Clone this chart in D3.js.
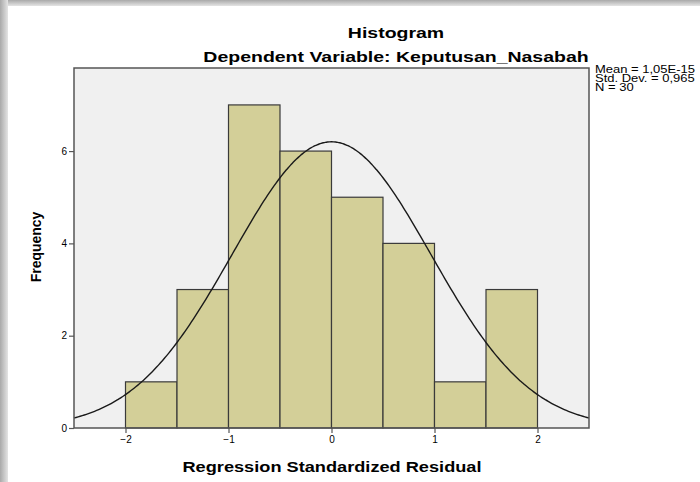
<!DOCTYPE html>
<html>
<head>
<meta charset="utf-8">
<script src="https://cdn.jsdelivr.net/npm/d3@7"></script>
<style>
  body { margin: 0; background: #fff; }
  svg text { font-family: "Liberation Sans", Arial, sans-serif; fill: #000; }
</style>
</head>
<body>
<div id="chart"></div>
<script>
// histogram bins (lower edges) and counts
const binStarts = [-2, -1.5, -1, -0.5, 0, 0.5, 1, 1.5];
const counts = [1, 3, 7, 6, 5, 4, 1, 3];
const binWidth = 0.5;

// stats shown in the legend
const meanValue = 1.05e-15;
const stdDev = 0.965;
const nCount = 30;
const statLines = ["Mean = 1,05E-15", "Std. Dev. = 0,965", "N = 30"];

const xTicks = [-2, -1, 0, 1, 2];
const yTicks = [0, 2, 4, 6];

const W = 700, H = 482;
const plot = { left: 74, top: 68, right: 589, bottom: 428 };
const stretch = 1.3; // the source picture is a bit wider than tall

const svg = d3.select("#chart").append("svg")
    .attr("width", W)
    .attr("height", H);

// card shadow along left and top edges
const defs = svg.append("defs");
const gl = defs.append("linearGradient").attr("id", "shL").attr("x1", 0).attr("x2", 1).attr("y1", 0).attr("y2", 0);
gl.append("stop").attr("offset", 0).attr("stop-color", "#a9a9a9");
gl.append("stop").attr("offset", 1).attr("stop-color", "#e4e4e4");
const gt = defs.append("linearGradient").attr("id", "shT").attr("x1", 0).attr("x2", 0).attr("y1", 0).attr("y2", 1);
gt.append("stop").attr("offset", 0).attr("stop-color", "#a9a9a9");
gt.append("stop").attr("offset", 1).attr("stop-color", "#e4e4e4");
svg.append("rect").attr("x", 0).attr("y", 0).attr("width", W).attr("height", 6).attr("fill", "url(#shT)");
svg.append("rect").attr("x", 0).attr("y", 0).attr("width", 8).attr("height", H).attr("fill", "url(#shL)");

const x = d3.scaleLinear().domain([-2.5, 2.5]).range([plot.left, plot.right]);
const y = d3.scaleLinear().domain([0, 7.8]).range([plot.bottom, plot.top]);

// plot background
svg.append("rect")
    .attr("x", plot.left).attr("y", plot.top)
    .attr("width", plot.right - plot.left).attr("height", plot.bottom - plot.top)
    .attr("fill", "#f0f0f0");

// bars
svg.append("g").selectAll("rect")
    .data(binStarts)
    .join("rect")
    .attr("x", (d) => x(d))
    .attr("y", (d, i) => y(counts[i]))
    .attr("width", (d) => x(d + binWidth) - x(d))
    .attr("height", (d, i) => y(0) - y(counts[i]))
    .attr("fill", "#d3cf98")
    .attr("stroke", "#3a3a3a")
    .attr("stroke-width", 1.2);

// normal curve scaled by N and bin width
const curveX = d3.range(-2.5, 2.5001, 0.02);
const scaleK = nCount * binWidth;
svg.append("path")
    .datum(curveX)
    .attr("fill", "none")
    .attr("stroke", "#1a1a1a")
    .attr("stroke-width", 1.4)
    .attr("d", d3.line()
        .x((d) => x(d))
        .y((d) => y(scaleK * Math.exp(-0.5 * Math.pow((d - meanValue) / stdDev, 2)) / (stdDev * Math.sqrt(2 * Math.PI))))
        .curve(d3.curveBasis));

// frame
svg.append("rect")
    .attr("x", plot.left).attr("y", plot.top)
    .attr("width", plot.right - plot.left).attr("height", plot.bottom - plot.top)
    .attr("fill", "none")
    .attr("stroke", "#555")
    .attr("stroke-width", 1.5);

// axes
const xAxis = svg.append("g")
    .attr("transform", `translate(0,${plot.bottom})`)
    .call(d3.axisBottom(x).tickValues(xTicks).tickSize(5).tickPadding(3).tickFormat(d3.format("d")));
const yAxis = svg.append("g")
    .attr("transform", `translate(${plot.left},0)`)
    .call(d3.axisLeft(y).tickValues(yTicks).tickSize(5).tickPadding(2).tickFormat(d3.format("d")));
[xAxis, yAxis].forEach((g) => {
    g.select(".domain").remove();
    g.selectAll(".tick line").attr("stroke", "#555").attr("stroke-width", 1.2);
    g.selectAll(".tick text").attr("font-size", 10).attr("font-family", "Liberation Sans, Arial, sans-serif").attr("fill", "#222");
});

// text helper, widened like the source
function label(tx, ty, str, size, bold, anchor) {
    return svg.append("text")
        .attr("transform", `translate(${tx},${ty}) scale(${stretch},1)`)
        .attr("text-anchor", anchor || "middle")
        .attr("font-size", size)
        .attr("font-weight", bold ? "bold" : "normal")
        .text(str);
}

label(396, 38, "Histogram", 15, true);
label(396, 62, "Dependent Variable: Keputusan_Nasabah", 15, true);
label(332, 472, "Regression Standardized Residual", 14, true);
svg.append("text")
    .attr("transform", "translate(41,247) rotate(-90) scale(1,1.1)")
    .attr("text-anchor", "middle").attr("font-size", 14).attr("font-weight", "bold")
    .text("Frequency");

// legend stats
statLines.forEach((s, i) => label(595, 73 + i * 9, s, 10, false, "start"));
</script>
</body>
</html>
